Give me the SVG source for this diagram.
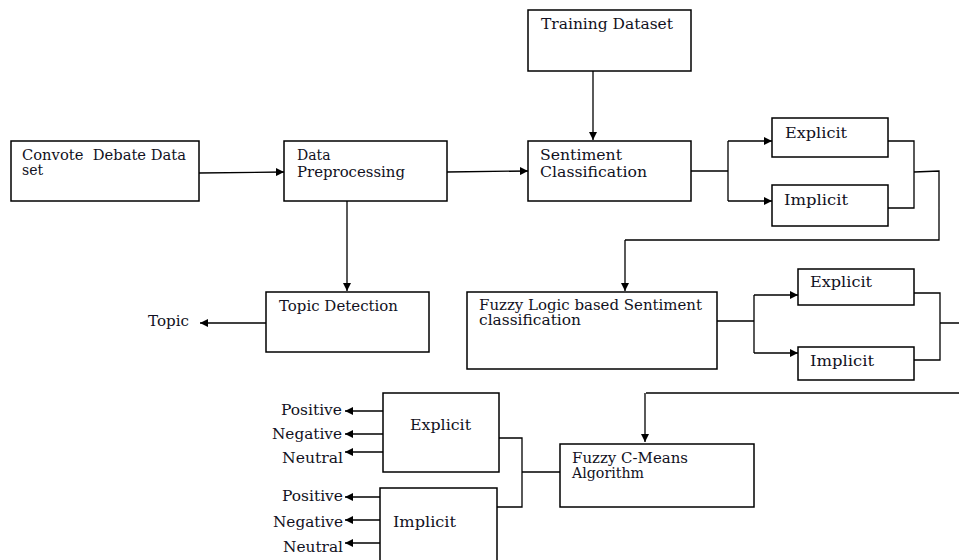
<svg xmlns="http://www.w3.org/2000/svg" width="959" height="560" viewBox="0 0 959 560">
<defs>
<marker id="ah" viewBox="0 0 10 10" refX="10" refY="5" markerWidth="8" markerHeight="8" markerUnits="userSpaceOnUse" orient="auto">
<path d="M0,0 L10,5 L0,10 z" fill="#000"/>
</marker>
<style>
.box{fill:#fff;stroke:#000;stroke-width:1.5}
.t{font-family:"DejaVu Serif","Liberation Serif",serif;font-size:14px;fill:#111122}
.c{fill:none;stroke:#000;stroke-width:1.3}
.a{fill:none;stroke:#000;stroke-width:1.3;marker-end:url(#ah)}
</style>
</defs>
<rect width="959" height="560" fill="#fff"/>
<g id="connectors">
<path class="a" d="M199,173 L284,172"/>
<path class="a" d="M347,201 L347,291"/>
<path class="a" d="M266,323 L200,323"/>
<path class="a" d="M593,71 L593,140"/>
<path class="a" d="M447,172 L528,171"/>
<path class="c" d="M691,171 L728,171 M728,141 L728,201"/>
<path class="a" d="M728,141 L772,141"/>
<path class="a" d="M728,201 L772,201"/>
<path class="c" d="M888,141 L914,141 L914,208 L888,208 M914,172 L939,171 L939,240 L625,240"/>
<path class="a" d="M625,240 L625,291"/>
<path class="c" d="M717,321 L754,321 M754,295 L754,353"/>
<path class="a" d="M754,295 L798,295"/>
<path class="a" d="M754,353 L798,353"/>
<path class="c" d="M914,293 L940,293 L940,360 L914,360 M940,323 L959,323"/>
<path class="c" d="M959,393 L646,393"/>
<path class="a" d="M645,393 L645,442"/>
<path class="c" d="M495,438 L522,438 L522,507 L497,507 M522,472 L560,472"/>
<path class="a" d="M383,411 L345,411"/>
<path class="a" d="M383,434 L345,434"/>
<path class="a" d="M383,452 L345,452"/>
<path class="a" d="M380,497 L345,497"/>
<path class="a" d="M380,520 L345,520"/>
<path class="a" d="M380,543 L345,543"/>
</g>
<g id="convote">
<rect class="box" x="11" y="141" width="188" height="60"/>
<text class="t" x="22" y="160" textLength="164" lengthAdjust="spacingAndGlyphs" xml:space="preserve">Convote  Debate Data</text>
<text class="t" x="22" y="175">set</text>
</g>
<g id="preprocessing">
<rect class="box" x="284" y="141" width="163" height="60"/>
<text class="t" x="297" y="160">Data</text>
<text class="t" x="297" y="177" textLength="108" lengthAdjust="spacingAndGlyphs">Preprocessing</text>
</g>
<g id="topic-detection">
<rect class="box" x="266" y="292" width="163" height="60"/>
<text class="t" x="279" y="311" textLength="119" lengthAdjust="spacingAndGlyphs">Topic Detection</text>
</g>
<g id="topic">
<text class="t" x="148" y="326" textLength="41" lengthAdjust="spacingAndGlyphs">Topic</text>
</g>
<g id="training">
<rect class="box" x="528" y="10" width="163" height="61"/>
<text class="t" x="541" y="29" textLength="132" lengthAdjust="spacingAndGlyphs">Training Dataset</text>
</g>
<g id="sentiment">
<rect class="box" x="528" y="141" width="163" height="60"/>
<text class="t" x="540" y="160" textLength="82" lengthAdjust="spacingAndGlyphs">Sentiment</text>
<text class="t" x="540" y="177" textLength="107" lengthAdjust="spacingAndGlyphs">Classification</text>
</g>
<g id="explicit1">
<rect class="box" x="772" y="118" width="116" height="39"/>
<text class="t" x="785" y="138" textLength="62" lengthAdjust="spacingAndGlyphs">Explicit</text>
</g>
<g id="implicit1">
<rect class="box" x="772" y="185" width="116" height="41"/>
<text class="t" x="784" y="205" textLength="64" lengthAdjust="spacingAndGlyphs">Implicit</text>
</g>
<g id="fuzzy-logic">
<rect class="box" x="467" y="292" width="250" height="77"/>
<text class="t" x="479" y="310" textLength="223" lengthAdjust="spacingAndGlyphs">Fuzzy Logic based Sentiment</text>
<text class="t" x="479" y="325" textLength="102" lengthAdjust="spacingAndGlyphs">classification</text>
</g>
<g id="explicit2">
<rect class="box" x="798" y="269" width="116" height="36"/>
<text class="t" x="810" y="287" textLength="62" lengthAdjust="spacingAndGlyphs">Explicit</text>
</g>
<g id="implicit2">
<rect class="box" x="798" y="347" width="116" height="33"/>
<text class="t" x="810" y="366" textLength="64" lengthAdjust="spacingAndGlyphs">Implicit</text>
</g>
<g id="fcm">
<rect class="box" x="560" y="444" width="194" height="63"/>
<text class="t" x="572" y="463" textLength="116" lengthAdjust="spacingAndGlyphs">Fuzzy C-Means</text>
<text class="t" x="572" y="478" textLength="72" lengthAdjust="spacingAndGlyphs">Algorithm</text>
</g>
<g id="explicit3">
<rect class="box" x="383" y="393" width="116" height="79"/>
<text class="t" x="410" y="430" textLength="61" lengthAdjust="spacingAndGlyphs">Explicit</text>
</g>
<g id="implicit3">
<rect class="box" x="380" y="488" width="117" height="74"/>
<text class="t" x="393" y="527" textLength="63" lengthAdjust="spacingAndGlyphs">Implicit</text>
</g>
<g id="outputs">
<text class="t" x="281" y="415" textLength="61" lengthAdjust="spacingAndGlyphs">Positive</text>
<text class="t" x="272" y="439" textLength="70" lengthAdjust="spacingAndGlyphs">Negative</text>
<text class="t" x="282" y="463" textLength="61" lengthAdjust="spacingAndGlyphs">Neutral</text>
<text class="t" x="282" y="501" textLength="61" lengthAdjust="spacingAndGlyphs">Positive</text>
<text class="t" x="273" y="527" textLength="70" lengthAdjust="spacingAndGlyphs">Negative</text>
<text class="t" x="283" y="552" textLength="60" lengthAdjust="spacingAndGlyphs">Neutral</text>
</g>
</svg>
